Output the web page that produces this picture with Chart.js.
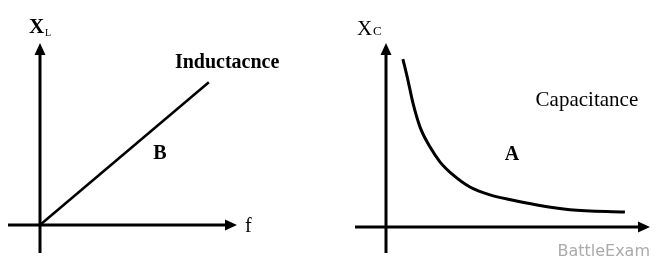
<!DOCTYPE html>
<html>
<head>
<meta charset="utf-8">
<script src="https://cdn.jsdelivr.net/npm/chart.js@4.4.0/dist/chart.umd.min.js"></script>
<style>
  body { margin: 0; background: #fff; }
  #wrap { position: relative; width: 660px; height: 263px; }
  canvas { position: absolute; top: 0; }
</style>
</head>
<body>
<div id="wrap">
  <canvas id="leftChart" width="330" height="263" style="left:0"></canvas>
  <canvas id="rightChart" width="330" height="263" style="left:330px"></canvas>
</div>
<script>
// inductive reactance: straight line through origin
const freqL = [0, 6];
const reactL = [0, 5.1];

// capacitive reactance: falls off like 1/f
const freqC = [0.64, 0.83, 1.02, 1.29, 1.67, 2.05, 2.54, 3.18, 3.94, 4.81, 5.72, 6.97, 9.05];
const reactC = [6.39, 5.59, 4.72, 3.8, 3.04, 2.47, 1.98, 1.52, 1.22, 1.02, 0.84, 0.66, 0.57];

const toPoints = (xs, ys) => xs.map((x, i) => ({ x: x, y: ys[i] }));

// axes with arrowheads, drawn through the chart's own scales
function axesPlugin(opts) {
  return {
    id: "axes",
    afterDatasetsDraw(chart) {
      const ctx = chart.ctx;
      const xs = chart.scales.x, ys = chart.scales.y;
      const x0 = xs.getPixelForValue(0), y0 = ys.getPixelForValue(0);
      const xEnd = xs.getPixelForValue(xs.max), yEnd = ys.getPixelForValue(ys.max);
      ctx.save();
      ctx.strokeStyle = "#000";
      ctx.fillStyle = "#000";
      ctx.lineWidth = 3;
      ctx.beginPath();
      ctx.moveTo(x0 - opts.left, y0);
      ctx.lineTo(xEnd - 8, y0);
      ctx.moveTo(x0, y0 + opts.bottom);
      ctx.lineTo(x0, yEnd + 8);
      ctx.stroke();
      // arrowheads
      ctx.beginPath();
      ctx.moveTo(xEnd, y0);
      ctx.lineTo(xEnd - 12, y0 - 5.5);
      ctx.lineTo(xEnd - 12, y0 + 5.5);
      ctx.closePath();
      ctx.moveTo(x0, yEnd);
      ctx.lineTo(x0 - 5.5, yEnd + 12);
      ctx.lineTo(x0 + 5.5, yEnd + 12);
      ctx.closePath();
      ctx.fill();

      // text labels
      ctx.textBaseline = "alphabetic";
      opts.labels.forEach((l) => {
        ctx.font = l.font;
        ctx.fillStyle = l.color || "#000";
        ctx.textAlign = l.align || "center";
        const px = l.px !== undefined ? l.px : xs.getPixelForValue(l.x);
        const py = l.py !== undefined ? l.py : ys.getPixelForValue(l.y);
        ctx.fillText(l.text, px, py);
      });
      ctx.restore();
    },
  };
}

function baseOptions(xMax, yMax, pad) {
  return {
    responsive: false,
    animation: false,
    layout: { padding: pad },
    plugins: { legend: { display: false }, tooltip: { enabled: false } },
    scales: {
      x: { type: "linear", display: false, min: 0, max: xMax },
      y: { type: "linear", display: false, min: 0, max: yMax },
    },
  };
}

new Chart(document.getElementById("leftChart").getContext("2d"), {
  type: "scatter",
  data: {
    datasets: [
      {
        data: toPoints(freqL, reactL),
        showLine: true,
        borderColor: "#000",
        borderWidth: 2.5,
        pointRadius: 0,
      },
    ],
  },
  options: baseOptions(7, 6.5, { left: 40, right: 93, top: 43, bottom: 38 }),
  plugins: [
    axesPlugin({
      left: 32,
      bottom: 28,
      labels: [
        { text: "X", font: "bold 21px 'Liberation Serif'", align: "left", px: 29, py: 33 },
        { text: "L", font: "10px 'Liberation Serif'", align: "left", px: 45, py: 36 },
        { text: "Inductacnce", font: "bold 20px 'Liberation Serif'", x: 6.65, y: 5.61 },
        { text: "B", font: "bold 20px 'Liberation Serif'", x: 4.26, y: 2.36 },
        { text: "f", font: "20px 'Liberation Serif'", align: "left", px: 245, py: 232 },
      ],
    }),
  ],
});

new Chart(document.getElementById("rightChart").getContext("2d"), {
  type: "scatter",
  data: {
    datasets: [
      {
        data: toPoints(freqC, reactC),
        showLine: true,
        cubicInterpolationMode: "monotone",
        borderColor: "#000",
        borderWidth: 3,
        pointRadius: 0,
      },
    ],
  },
  options: baseOptions(10, 7, { left: 56, right: 10, top: 43, bottom: 36 }),
  plugins: [
    axesPlugin({
      left: 31,
      bottom: 26,
      labels: [
        { text: "X", font: "21px 'Liberation Serif'", align: "left", px: 27, py: 35 },
        { text: "C", font: "13px 'Liberation Serif'", align: "left", px: 43, py: 35 },
        { text: "Capacitance", font: "21px 'Liberation Serif'", x: 7.61, y: 4.6 },
        { text: "A", font: "bold 20px 'Liberation Serif'", x: 4.77, y: 2.55 },
        { text: "BattleExam", font: "16px 'DejaVu Sans'", color: "#ababab", align: "right", px: 320, py: 256 },
      ],
    }),
  ],
});
</script>
</body>
</html>
